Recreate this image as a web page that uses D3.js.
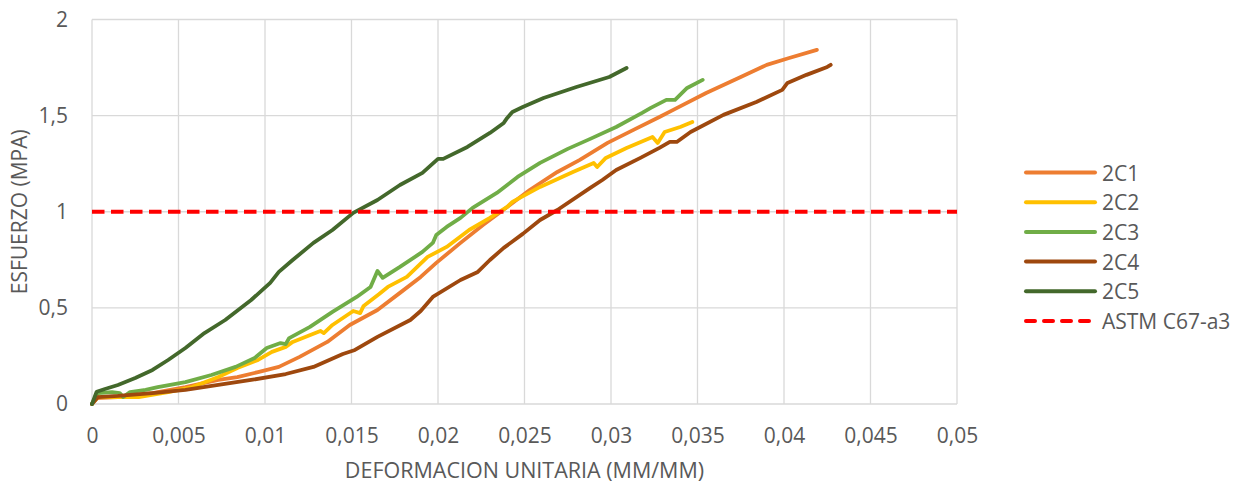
<!DOCTYPE html>
<html>
<head>
<meta charset="utf-8">
<script src="https://cdn.jsdelivr.net/npm/d3@7"></script>
<style>
  html, body { margin: 0; padding: 0; background: #ffffff; }
  svg { display: block; }
  text { font-family: "Open Sans", "Liberation Sans", sans-serif; fill: #595959; }
</style>
</head>
<body>
<svg id="chart" width="1238" height="485"></svg>
<script>
// Stress–strain curves, [strain (mm/mm), stress (MPa)]
const s2C1 = [[0,0],[0.00023,0.031],[0.0015,0.036],[0.0035,0.057],[0.0054,0.088],[0.0073,0.125],[0.0084,0.140],[0.0096,0.166],[0.0108,0.193],[0.0120,0.245],[0.0136,0.323],[0.0149,0.411],[0.0165,0.489],[0.0178,0.578],[0.0190,0.661],[0.0199,0.734],[0.0213,0.838],[0.0226,0.931],[0.0240,1.025],[0.0253,1.113],[0.0269,1.207],[0.0282,1.270],[0.0298,1.358],[0.0313,1.426],[0.0328,1.493],[0.0336,1.530],[0.0355,1.618],[0.0375,1.701],[0.0390,1.764],[0.0403,1.800],[0.0419,1.842]];
const s2C2 = [[0,0],[0.00035,0.036],[0.0015,0.036],[0.0027,0.036],[0.0044,0.062],[0.0058,0.088],[0.0064,0.109],[0.0073,0.140],[0.0084,0.187],[0.0096,0.229],[0.0104,0.271],[0.0112,0.297],[0.0116,0.323],[0.0132,0.380],[0.0134,0.369],[0.0139,0.411],[0.0151,0.484],[0.0155,0.473],[0.0157,0.510],[0.0166,0.572],[0.0171,0.609],[0.0182,0.661],[0.0194,0.765],[0.0205,0.817],[0.0218,0.905],[0.0230,0.968],[0.0240,1.025],[0.0243,1.051],[0.0259,1.129],[0.0278,1.207],[0.0290,1.254],[0.0292,1.233],[0.0297,1.280],[0.0309,1.332],[0.0324,1.389],[0.0327,1.358],[0.0331,1.415],[0.0340,1.441],[0.0347,1.467]];
const s2C3 = [[0,0],[0.00035,0.057],[0.00116,0.062],[0.0016,0.057],[0.0018,0.036],[0.0022,0.062],[0.0031,0.073],[0.0038,0.088],[0.0054,0.114],[0.0069,0.151],[0.0083,0.193],[0.0094,0.239],[0.0101,0.291],[0.0109,0.317],[0.0112,0.312],[0.0114,0.343],[0.0126,0.401],[0.0139,0.479],[0.0153,0.557],[0.0161,0.609],[0.0165,0.692],[0.0168,0.656],[0.0178,0.713],[0.0191,0.791],[0.0197,0.838],[0.0199,0.879],[0.0205,0.921],[0.0213,0.968],[0.0220,1.020],[0.0234,1.098],[0.0246,1.181],[0.0259,1.254],[0.0275,1.327],[0.0288,1.379],[0.0303,1.441],[0.0318,1.514],[0.0323,1.540],[0.0332,1.582],[0.0337,1.582],[0.0344,1.644],[0.0353,1.686]];
const s2C4 = [[0,0],[0.00035,0.036],[0.0015,0.042],[0.0035,0.057],[0.0054,0.073],[0.0073,0.099],[0.0092,0.125],[0.0112,0.156],[0.0128,0.193],[0.0145,0.260],[0.0152,0.281],[0.0165,0.349],[0.0184,0.437],[0.0190,0.484],[0.0197,0.557],[0.0213,0.645],[0.0223,0.687],[0.0230,0.749],[0.0238,0.812],[0.0249,0.885],[0.0259,0.957],[0.0269,1.009],[0.0288,1.124],[0.0295,1.165],[0.0303,1.217],[0.0317,1.280],[0.0328,1.332],[0.0334,1.363],[0.0338,1.363],[0.0346,1.415],[0.0365,1.504],[0.0384,1.571],[0.0399,1.634],[0.0402,1.670],[0.0413,1.712],[0.0425,1.753],[0.0427,1.764]];
const s2C5 = [[0,0],[0.00027,0.064],[0.00075,0.078],[0.0015,0.099],[0.0025,0.135],[0.0035,0.177],[0.0044,0.229],[0.0054,0.291],[0.0065,0.369],[0.0077,0.437],[0.0092,0.541],[0.0103,0.630],[0.0108,0.687],[0.0116,0.749],[0.0128,0.838],[0.0139,0.905],[0.0151,0.994],[0.0165,1.061],[0.0178,1.139],[0.0191,1.202],[0.0200,1.275],[0.0203,1.275],[0.0217,1.337],[0.0230,1.410],[0.0238,1.462],[0.0240,1.488],[0.0243,1.519],[0.0249,1.545],[0.0261,1.592],[0.0280,1.649],[0.0299,1.701],[0.0309,1.748]];
// Reference stress limit (ASTM C67-a3) across the full strain range
const astm = [[0,1],[0.05,1]];

const seriesNames = ["2C1","2C2","2C3","2C4","2C5","ASTM C67-a3"];
const seriesData = [s2C1, s2C2, s2C3, s2C4, s2C5, astm];
const seriesColors = ["#ED7D31","#FFC000","#70AD47","#9E480E","#43682B","#FF0000"];

const xTicks = [0,0.005,0.01,0.015,0.02,0.025,0.03,0.035,0.04,0.045,0.05];
const yTicks = [0,0.5,1,1.5,2];
const xTitle = "DEFORMACION UNITARIA (MM/MM)";
const yTitle = "ESFUERZO (MPA)";

const svg = d3.select("#chart");
const plot = {left: 92, right: 957, top: 19.5, bottom: 404};

const x = d3.scaleLinear().domain([0, 0.05]).range([plot.left, plot.right]);
const y = d3.scaleLinear().domain([0, 2]).range([plot.bottom, plot.top]);

const fmt = v => String(+v.toFixed(3)).replace(".", ",");

// Gridlines
const grid = svg.append("g").attr("stroke", "#D9D9D9").attr("stroke-width", 1.3);
grid.selectAll("line.v").data(xTicks).join("line")
  .attr("x1", d => x(d)).attr("x2", d => x(d))
  .attr("y1", y(2)).attr("y2", y(0));
grid.selectAll("line.h").data(yTicks).join("line")
  .attr("x1", x(0)).attr("x2", x(0.05))
  .attr("y1", d => y(d)).attr("y2", d => y(d));

// X axis labels
const xAxis = svg.append("g").attr("transform", `translate(0,${plot.bottom})`)
  .call(d3.axisBottom(x).tickValues(xTicks).tickFormat(fmt).tickSize(0).tickPadding(24));
xAxis.select(".domain").remove();
xAxis.selectAll("text").style("font-size", "21px").attr("fill", "#595959")
  .style("font-family", "\"Open Sans\", sans-serif");

// Y axis labels
const yAxis = svg.append("g").attr("transform", `translate(${plot.left},0)`)
  .call(d3.axisLeft(y).tickValues(yTicks).tickFormat(fmt).tickSize(0).tickPadding(24));
yAxis.select(".domain").remove();
yAxis.selectAll("text").style("font-size", "21px").attr("fill", "#595959")
  .style("font-family", "\"Open Sans\", sans-serif");

// Axis titles
svg.append("text").attr("x", (plot.left + plot.right) / 2).attr("y", 478)
  .attr("text-anchor", "middle").style("font-size", "21.5px").text(xTitle);
svg.append("text")
  .attr("transform", `translate(27,${(plot.top + plot.bottom) / 2}) rotate(-90)`)
  .attr("text-anchor", "middle").style("font-size", "21px").text(yTitle);

// Curves
const line = d3.line().x(d => x(d[0])).y(d => y(d[1]));
const marks = svg.append("g");
seriesData.forEach((data, i) => {
  const isRef = i === seriesData.length - 1;
  marks.append("path")
    .datum(data)
    .attr("d", line)
    .attr("fill", "none")
    .attr("stroke", seriesColors[i])
    .attr("stroke-width", isRef ? 4 : 3.8)
    .attr("stroke-linejoin", "round")
    .attr("stroke-linecap", isRef ? "butt" : "round")
    .attr("stroke-dasharray", isRef ? "12.5,6.5" : null);
});

// Legend
const legend = svg.append("g");
seriesNames.forEach((name, i) => {
  const ly = 172.5 + i * 29.7;
  const isRef = i === seriesNames.length - 1;
  legend.append("line")
    .attr("x1", 1026).attr("x2", 1095).attr("y1", ly).attr("y2", ly)
    .attr("stroke", seriesColors[i]).attr("stroke-width", 4)
    .attr("stroke-linecap", "round")
    .attr("stroke-dasharray", isRef ? "9,9" : null);
  legend.append("text").attr("x", 1102).attr("y", ly)
    .attr("dominant-baseline", "central")
    .style("font-size", "21px").text(name);
});
</script>
</body>
</html>
